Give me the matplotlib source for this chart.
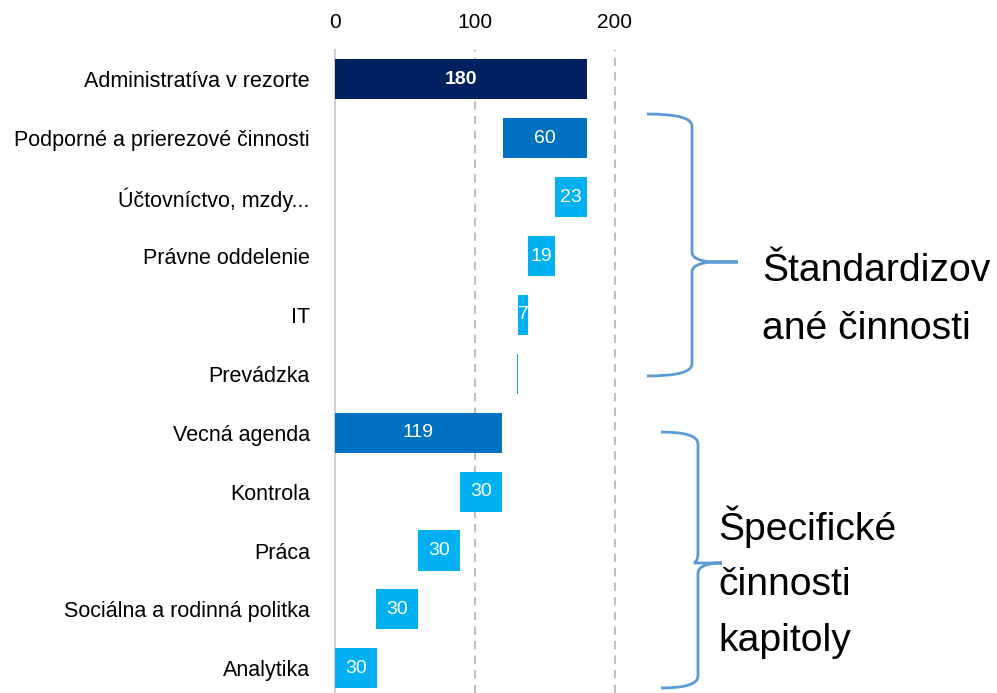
import matplotlib
matplotlib.use('Agg')
import matplotlib.pyplot as plt
from matplotlib.path import Path
from matplotlib.patches import PathPatch

plt.rcParams['font.family'] = ['Liberation Sans', 'DejaVu Sans']

# data
kategorie = ['Administratíva v rezorte', 'Podporné a prierezové činnosti', 'Účtovníctvo, mzdy...',
             'Právne oddelenie', 'IT', 'Prevádzka', 'Vecná agenda', 'Kontrola', 'Práca',
             'Sociálna a rodinná politka', 'Analytika']
hodnoty = [180, 60, 23, 19, 7, 1, 119, 30, 30, 30, 30]
zaciatok = [0, 120, 157, 138, 131, 130, 0, 89, 59, 29, 0]
popisky = ['180', '60', '23', '19', '7', '', '119', '30', '30', '30', '30']
farby = ['#002060', '#0070C0', '#00B0F0', '#00B0F0', '#00B0F0', '#00B0F0',
         '#0070C0', '#00B0F0', '#00B0F0', '#00B0F0', '#00B0F0']
skupiny = ['Štandardizov\nané činnosti', 'Špecifické\nčinnosti\nkapitoly']

W, H = 997, 693
fig = plt.figure(figsize=(W/100, H/100), dpi=100)
ax = fig.add_axes([335/W, 0, (643-335)/W, (693-50)/H])

y = list(range(len(kategorie)))
ax.barh(y, hodnoty, left=zaciatok, height=0.68, color=farby, linewidth=0, zorder=3)

for i in y:
    if popisky[i]:
        ax.text(zaciatok[i] + hodnoty[i]/2, i, popisky[i], ha='center', va='center',
                color='white', fontsize=14, zorder=4,
                fontweight='bold' if i == 0 else 'normal')

ax.set_xlim(0, 220)
ax.set_ylim(10.42, -0.5)
ax.set_xticks([0, 100, 200])
ax.xaxis.tick_top()
ax.tick_params(axis='x', length=0, labelsize=15, pad=13)
ax.set_yticks(y)
ax.set_yticklabels(kategorie)
ax.tick_params(axis='y', length=0, labelsize=15.5, pad=18)
for s in ['top', 'right', 'bottom']:
    ax.spines[s].set_visible(False)
ax.spines['left'].set_color('#d0d0d0')
ax.spines['left'].set_linewidth(1.5)
for xv in [100, 200]:
    ax.axvline(xv, color='#c0c0c0', linestyle=(0, (4, 3)), linewidth=1.5, zorder=1)


def zatvorka(x0, xv, xt, ytop, ymid, ybot):
    def p(x, yy):
        return (x / W, 1 - yy / H)
    verts = [p(x0, ytop), p(xv, ytop), p(xv, ytop + 12),
             p(xv, ymid - 10), p(xv, ymid - 2), p(xt - 28, ymid),
             p(xt, ymid),
             p(xv + 18, ymid), p(xv, ymid + 2), p(xv, ymid + 10),
             p(xv, ybot - 12), p(xv, ybot), p(x0, ybot)]
    codes = [Path.MOVETO, Path.CURVE3, Path.CURVE3,
             Path.LINETO, Path.CURVE3, Path.CURVE3,
             Path.LINETO,
             Path.LINETO, Path.CURVE3, Path.CURVE3,
             Path.LINETO, Path.CURVE3, Path.CURVE3]
    fig.patches.append(PathPatch(Path(verts, codes), transform=fig.transFigure,
                                 fill=False, edgecolor='#5B9BD5', linewidth=2))


zatvorka(647, 692, 738, 114, 262, 376)
zatvorka(661, 698, 722, 432, 563, 688)

fig.text(762/W, 1 - 300/H, skupiny[0], fontsize=28.2, va='center', ha='left', linespacing=1.78)
fig.text(718/W, 1 - 582/H, skupiny[1], fontsize=28.2, va='center', ha='left', linespacing=1.7)

fig.savefig('out.png', dpi=100)
